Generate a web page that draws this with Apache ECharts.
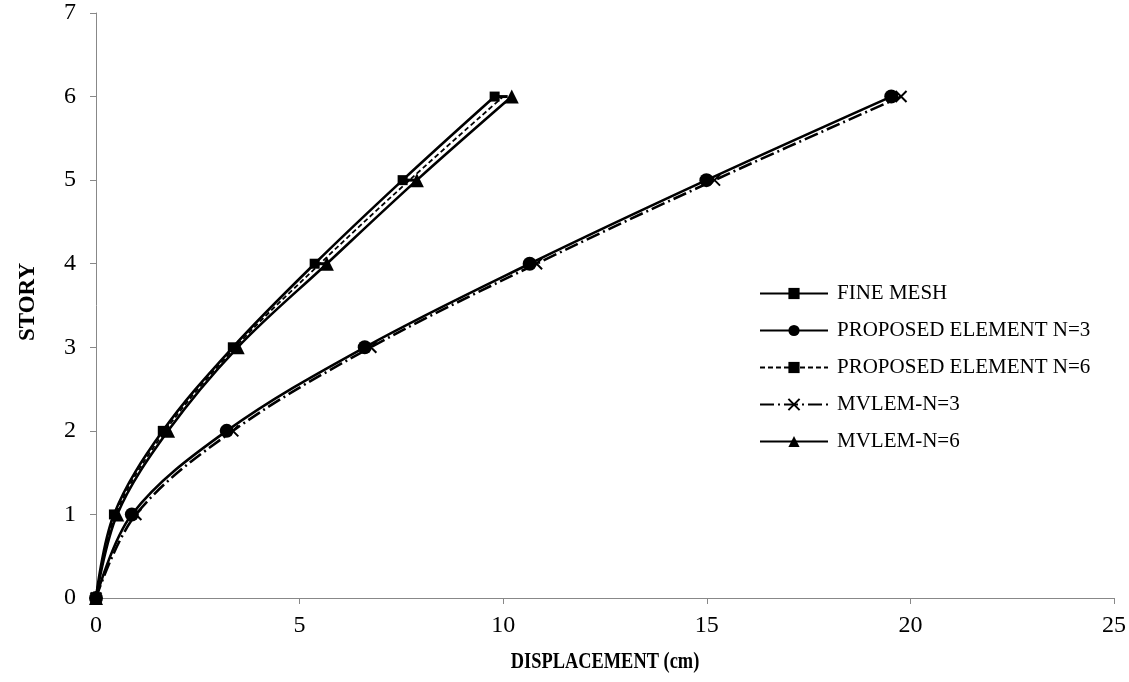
<!DOCTYPE html>
<html>
<head>
<meta charset="utf-8">
<script src="https://cdn.jsdelivr.net/npm/echarts@6/dist/echarts.min.js"></script>
<style>
html,body{margin:0;padding:0;background:#fff;}
#chart{width:1129px;height:682px;}
</style>
</head>
<body>
<div id="chart"></div>
<script>
const stories = [0, 1, 2, 3, 4, 5, 6];
const fineMesh = [0, 0.44, 1.64, 3.36, 5.37, 7.53, 9.79];
const proposedN3 = [0, 0.88, 3.21, 6.60, 10.65, 14.99, 19.53];
const proposedN6 = [0, 0.48, 1.70, 3.42, 5.50, 7.70, 10.00];
const mvlemN3 = [0, 0.98, 3.36, 6.75, 10.82, 15.19, 19.77];
const mvlemN6 = [0, 0.52, 1.77, 3.48, 5.67, 7.88, 10.21];
const xTicks = [0, 5, 10, 15, 20, 25];
const yTicks = [0, 1, 2, 3, 4, 5, 6, 7];
const xTitle = 'DISPLACEMENT (cm)';
const yTitle = 'STORY';

const pairs = arr => arr.map((v, i) => [v, stories[i]]);
const font = '"Liberation Serif","Times New Roman",serif';
const crossPath = 'path://M0,0L10,10M10,0L0,10';

const chart = echarts.init(document.getElementById('chart'));
const base = (name, data, symbol, size, lineType) => ({
  name, type: 'line', data: pairs(data), smooth: 0.35,
  symbol, symbolSize: size, showSymbol: true,
  lineStyle: {color: '#000', width: 2.6, type: lineType},
  itemStyle: {color: '#000'},
  emphasis: {disabled: true}, animation: false
});

const series = [
  base('FINE MESH', fineMesh, 'rect', 10, 'solid'),
  base('PROPOSED ELEMENT N=3', proposedN3, 'circle', 14, 'solid'),
  Object.assign(base('PROPOSED ELEMENT N=6', proposedN6, 'rect', [9, 3], [5, 3]), {lineStyle: {color: '#000', width: 1.8, type: [5, 3]}}),
  Object.assign(base('MVLEM-N=3', mvlemN3, crossPath, 11, [14, 4, 2, 4]), {itemStyle: {color: 'none', borderColor: '#000', borderWidth: 2}}),
  base('MVLEM-N=6', mvlemN6, 'triangle', 14, 'solid')
];

chart.setOption({
  backgroundColor: '#fff',
  animation: false,
  grid: {left: 96, right: 14, top: 13, bottom: 84, containLabel: false},
  legend: {
    orient: 'vertical', left: 754, top: 278,
    itemWidth: 68, itemHeight: 14, itemGap: 16,
    textStyle: {fontFamily: font, fontSize: 21, color: '#000', padding: [0, 0, 0, 4]},
    data: series.map(s => s.name)
  },
  graphic: [
    {type: 'text', style: {text: xTitle, font: 'bold 23px ' + font, fill: '#000', textAlign: 'center', textVerticalAlign: 'middle'},
     x: 605, y: 662, scaleX: 0.8, scaleY: 1},
    {type: 'text', style: {text: yTitle, font: 'bold 23px ' + font, fill: '#000', textAlign: 'center', textVerticalAlign: 'middle'},
     x: 28, y: 302, rotation: Math.PI / 2}
  ],
  xAxis: {
    type: 'value', min: xTicks[0], max: xTicks[xTicks.length - 1], interval: 5,
    axisLine: {lineStyle: {color: '#888', width: 1}},
    axisTick: {show: true, inside: false, length: 6, lineStyle: {color: '#888'}},
    axisLabel: {fontFamily: font, fontSize: 24, color: '#000', margin: 16},
    splitLine: {show: false}
  },
  yAxis: {
    type: 'value', min: yTicks[0], max: yTicks[yTicks.length - 1], interval: 1,
    axisLine: {show: true, lineStyle: {color: '#888', width: 1}},
    axisTick: {show: true, inside: false, length: 6, lineStyle: {color: '#888'}},
    axisLabel: {fontFamily: font, fontSize: 24, color: '#000', margin: 20},
    splitLine: {show: false}
  },
  series
});
</script>
</body>
</html>
